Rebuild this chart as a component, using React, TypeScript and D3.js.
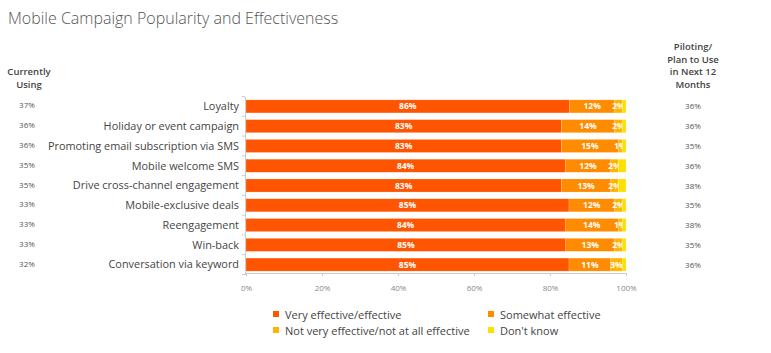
import { useEffect, useRef } from 'react';
import * as d3 from 'd3';

const categories = [
  'Loyalty',
  'Holiday or event campaign',
  'Promoting email subscription via SMS',
  'Mobile welcome SMS',
  'Drive cross-channel engagement',
  'Mobile-exclusive deals',
  'Reengagement',
  'Win-back',
  'Conversation via keyword',
];
const veryEffective = [86, 83, 83, 84, 83, 85, 84, 85, 85];
const somewhatEffective = [12, 14, 15, 12, 13, 12, 14, 13, 11];
const notVeryEffective = [2, 2, 1, 2, 2, 2, 1, 2, 3];
const dontKnow = [1, 1, 1, 2, 2, 1, 1, 1, 1];
const currentlyUsing = ['37%', '36%', '36%', '35%', '35%', '33%', '33%', '33%', '32%'];
const planToUse = ['36%', '36%', '35%', '36%', '38%', '35%', '38%', '35%', '36%'];
const xTicks = [0, 20, 40, 60, 80, 100];

const seriesKeys = ['very', 'somewhat', 'notVery', 'dontKnow'];
const seriesNames = [
  'Very effective/effective',
  'Somewhat effective',
  'Not very effective/not at all effective',
  "Don't know",
];
const colors = ['#ff5500', '#ff8b00', '#ffb400', '#ffdf00'];

export default function App() {
  const svgRef = useRef<SVGSVGElement | null>(null);

  useEffect(() => {
    if (!svgRef.current) return;
    const svg = d3.select(svgRef.current);
    svg.selectAll('*').remove();
    const width = 771;
    const height = 353;
    const font = "'Open Sans', sans-serif";
    svg.attr('width', width).attr('height', height);

    const rows = categories.map((c, i) => ({
      cat: c,
      very: veryEffective[i],
      somewhat: somewhatEffective[i],
      notVery: notVeryEffective[i],
      dontKnow: dontKnow[i],
    }));

    const x = d3.scaleLinear().domain([0, 1]).range([246, 626]);
    const y = d3.scaleBand().domain(categories).range([96.5, 274.5]).paddingInner(0.34).paddingOuter(0.17);

    const stack = d3.stack<any>().keys(seriesKeys).offset(d3.stackOffsetExpand);
    const series = stack(rows);

    // title
    svg.append('text')
      .attr('x', 8).attr('y', 24)
      .attr('font-family', font).attr('font-size', 16).attr('font-weight', 300)
      .attr('fill', '#555')
      .text('Mobile Campaign Popularity and Effectiveness');

    // column headers
    const hdr = svg.append('g').attr('font-family', font).attr('font-size', 9.5)
      .attr('font-weight', 600).attr('fill', '#444').attr('text-anchor', 'middle');
    ['Currently', 'Using'].forEach((t, i) => hdr.append('text').attr('x', 29).attr('y', 75 + i * 13).text(t));
    ['Piloting/', 'Plan to Use', 'in Next 12', 'Months'].forEach((t, i) =>
      hdr.append('text').attr('x', 693).attr('y', 50 + i * 12.7).text(t));

    // bars
    const g = svg.append('g');
    series.forEach((s, si) => {
      g.selectAll(null).data(s).enter().append('rect')
        .attr('x', (d) => x(d[0]))
        .attr('width', (d) => x(d[1]) - x(d[0]))
        .attr('y', (d: any) => y(d.data.cat)!)
        .attr('height', y.bandwidth())
        .attr('fill', colors[si])
        .attr('stroke', '#fff').attr('stroke-opacity', 0.35).attr('stroke-width', 0.5);
      if (si < 3) {
        g.selectAll(null).data(s).enter().append('text')
          .attr('x', (d) => (x(d[0]) + x(d[1])) / 2)
          .attr('y', (d: any) => y(d.data.cat)! + y.bandwidth() / 2 + 3)
          .attr('text-anchor', 'middle')
          .attr('font-family', font).attr('font-size', 8.5).attr('font-weight', 700)
          .attr('fill', '#fff')
          .text((d: any) => d.data[seriesKeys[si]] + '%');
      }
    });

    // left axis
    const yAxis = svg.append('g').attr('transform', `translate(245,0)`)
      .call(d3.axisLeft(y).tickSize(0).tickFormat(() => '') as any);
    yAxis.select('.domain').attr('stroke', '#ccc');
    const step = y.step();
    yAxis.selectAll(null).data(d3.range(categories.length + 1)).enter().append('line')
      .attr('x1', -3).attr('x2', 0)
      .attr('y1', (i) => y.range()[0] + i * step).attr('y2', (i) => y.range()[0] + i * step)
      .attr('stroke', '#ccc');

    // category labels
    svg.append('g').selectAll('text').data(categories).enter().append('text')
      .attr('x', 239).attr('y', (d) => y(d)! + y.bandwidth() / 2 + 3.8)
      .attr('text-anchor', 'end')
      .attr('font-family', font).attr('font-size', 10.9).attr('fill', '#444')
      .text((d) => d);

    // side values
    const side = svg.append('g').attr('font-family', font).attr('font-size', 8)
      .attr('fill', '#555').attr('text-anchor', 'middle');
    categories.forEach((c, i) => {
      const yy = y(c)! + y.bandwidth() / 2 + 2;
      side.append('text').attr('x', 27).attr('y', yy).text(currentlyUsing[i]);
      side.append('text').attr('x', 693).attr('y', yy + 1).text(planToUse[i]);
    });

    // x axis
    const xAxis = svg.append('g').attr('transform', `translate(0,${y.range()[1] - 1.5})`)
      .call(d3.axisBottom(x).tickValues(xTicks.map((t) => t / 100)).tickSize(3).tickPadding(9)
        .tickFormat((d: any) => Math.round(d * 100) + '%') as any);
    xAxis.select('.domain').attr('stroke', '#ccc');
    xAxis.selectAll('.tick line').attr('stroke', '#ccc');
    xAxis.selectAll('.tick text').attr('fill', '#888').attr('font-family', font).attr('font-size', 8);

    // legend
    const lg = svg.append('g').attr('font-family', font).attr('font-size', 11).attr('fill', '#444');
    seriesNames.forEach((n, i) => {
      const lx = i % 2 === 0 ? 273 : 488;
      const ly = i < 2 ? 319 : 335;
      lg.append('rect').attr('x', lx).attr('y', ly - 8).attr('width', 6).attr('height', 6).attr('fill', colors[i]);
      lg.append('text').attr('x', lx + 12).attr('y', ly).attr('fill', '#444').text(n);
    });
  }, []);

  return <svg ref={svgRef} style={{ position: 'absolute', left: 0, top: 0 }} />;
}
